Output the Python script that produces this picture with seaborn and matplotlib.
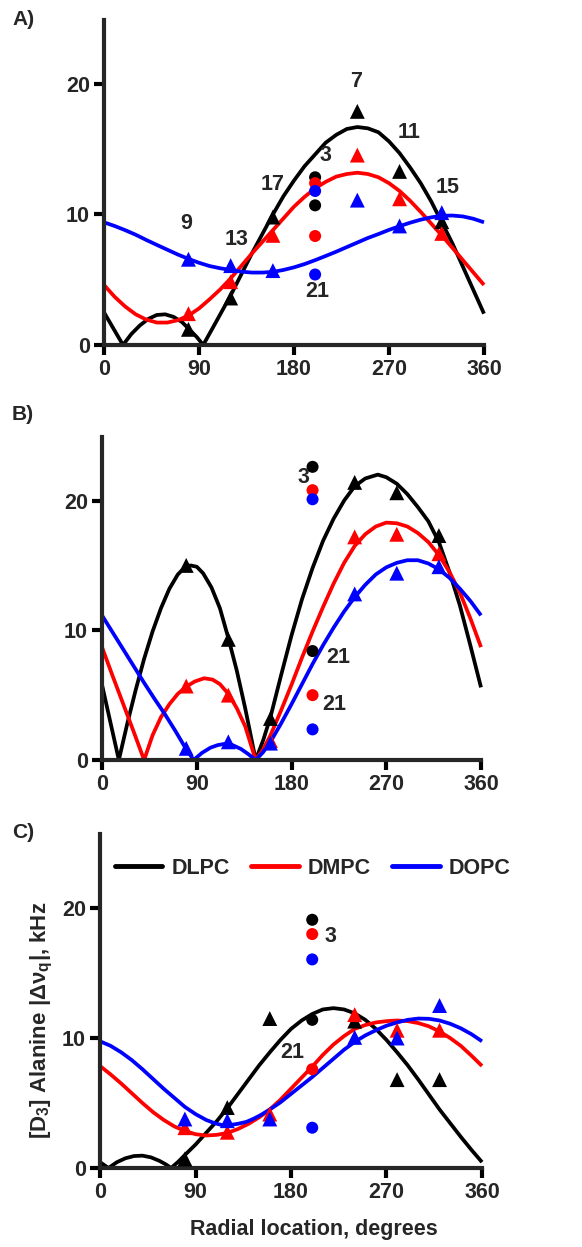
import matplotlib
matplotlib.use("Agg")
import matplotlib.pyplot as plt
from matplotlib.lines import Line2D
import pandas as pd
import seaborn as sns

# ---------------- data ----------------
LIPIDS = ["DLPC", "DMPC", "DOPC"]
COLORS = ["#000000", "#ff0000", "#0000ff"]
XTICKS = [0, 90, 180, 270, 360]
YTICKS = [0, 10, 20]

TRI_X = [80, 120, 160, 240, 280, 320]   # radial positions (triangles)
DOT_X = 200                              # radial position of residues 3 / 21

# ---- Panel A ----
A_DLPC_theta = [0, 9, 18, 26, 34, 42, 50, 58, 66, 74, 82, 88, 94, 105, 120, 130, 140, 150, 160, 170, 180, 190,
                200, 210, 220, 230, 240, 250, 260, 270, 280, 290, 300, 310, 320, 330, 340, 350, 360]
A_DLPC_fit = [2.5, 1.25, 0.0, 0.85, 1.5, 2.0, 2.3, 2.35, 2.15, 1.75, 1.1, 0.6, 0.0, 1.6, 3.8, 5.4, 7.0, 8.5, 10.0, 11.4, 12.6, 13.7,
              14.6, 15.5, 16.1, 16.55, 16.7, 16.6, 16.3, 15.6, 14.7, 13.6, 12.4, 11.0, 9.4, 7.8, 6.0, 4.2, 2.4]
A_DMPC_theta = [0, 10, 20, 30, 40, 50, 60, 70, 80, 90, 100, 110, 120, 130, 140, 150, 160, 170, 180,
                190, 200, 210, 220, 230, 240, 250, 260, 270, 280, 290, 300, 310, 320, 330, 340, 350, 360]
A_DMPC_fit = [4.6, 3.7, 2.95, 2.35, 1.95, 1.72, 1.72, 1.9, 2.25, 2.8, 3.5, 4.25, 5.1, 6.05, 7.0, 7.9, 8.8, 9.7, 10.6,
              11.35, 12.0, 12.5, 12.9, 13.1, 13.2, 13.1, 12.85, 12.4, 11.8, 11.05, 10.2, 9.3, 8.4, 7.45, 6.5, 5.55, 4.6]
A_DOPC_theta = [0, 10, 20, 30, 40, 50, 60, 70, 80, 90, 100, 110, 120, 130, 140, 150, 160, 170, 180,
                190, 200, 210, 220, 230, 240, 250, 260, 270, 280, 290, 300, 310, 320, 330, 340, 350, 360]
A_DOPC_fit = [9.4, 9.12, 8.8, 8.45, 8.05, 7.67, 7.3, 6.93, 6.6, 6.3, 6.05, 5.88, 5.75, 5.62, 5.55, 5.55, 5.6, 5.75, 5.95,
              6.2, 6.5, 6.82, 7.15, 7.5, 7.85, 8.2, 8.5, 8.82, 9.1, 9.37, 9.6, 9.78, 9.9, 9.92, 9.85, 9.67, 9.4]
A_tri_DLPC = [1.2, 3.6, 9.8, 17.9, 13.3, 9.45]
A_tri_DMPC = [2.4, 4.85, 8.4, 14.55, 11.2, 8.55]
A_tri_DOPC = [6.57, 6.08, 5.7, 11.1, 9.12, 10.14]
A_dot_res3 = [12.85, 12.4, 11.8]
A_dot_res21 = [10.7, 8.35, 5.4]
A_labels = ["9", "13", "17", "3", "21", "7", "11", "15"]
A_label_x = [78, 126, 160, 210, 202, 239, 289, 326]
A_label_y = [9.3, 8.1, 12.3, 14.5, 4.1, 20.15, 16.25, 12.1]

# ---- Panel B ----
B_DLPC_theta = [0, 8, 16, 24, 32, 40, 48, 56, 64, 72, 78, 84, 90, 96, 104, 112, 120, 128, 136, 146, 153, 160, 170, 180,
                190, 200, 210, 220, 230, 240, 250, 262, 270, 280, 290, 300, 310, 320, 330, 340, 350, 360]
B_DLPC_fit = [5.8, 2.9, 0.0, 2.8, 5.4, 7.8, 9.9, 11.7, 13.2, 14.3, 14.8, 15.0, 14.9, 14.4, 13.3, 11.7, 9.4, 6.9, 4.0, 0.0, 1.5, 3.3, 6.5, 9.6,
              12.4, 14.8, 16.9, 18.6, 20.0, 21.1, 21.7, 22.0, 21.8, 21.3, 20.5, 19.5, 18.4, 16.8, 14.5, 11.9, 8.8, 5.6]
B_DMPC_theta = [0, 10, 20, 30, 40, 48, 56, 64, 72, 80, 88, 97, 105, 112, 120, 128, 136, 146, 153, 160, 170, 180,
                190, 200, 210, 220, 230, 240, 250, 260, 270, 280, 290, 300, 310, 320, 330, 340, 350, 360]
B_DMPC_fit = [8.7, 6.5, 4.35, 2.2, 0.0, 1.9, 3.3, 4.3, 5.1, 5.65, 6.05, 6.3, 6.2, 5.85, 5.1, 4.0, 2.6, 0.0, 0.8, 1.9, 3.8, 5.8,
              7.9, 9.9, 11.8, 13.6, 15.2, 16.5, 17.4, 18.0, 18.3, 18.25, 18.0, 17.5, 16.8, 15.8, 14.5, 12.9, 10.9, 8.7]
B_DOPC_theta = [0, 10, 20, 30, 40, 50, 60, 70, 78, 87, 95, 103, 110, 117, 124, 132, 139, 146, 153, 160, 170, 180,
                190, 200, 210, 220, 230, 240, 250, 260, 270, 280, 290, 300, 310, 320, 330, 340, 350, 360]
B_DOPC_fit = [11.15, 9.85, 8.55, 7.25, 5.95, 4.7, 3.5, 2.2, 1.1, 0.0, 0.55, 0.95, 1.15, 1.25, 1.15, 0.85, 0.45, 0.0, 0.6, 1.4, 2.8, 4.3,
              5.85, 7.4, 8.85, 10.2, 11.45, 12.55, 13.5, 14.3, 14.85, 15.2, 15.4, 15.4, 15.15, 14.7, 14.05, 13.2, 12.25, 11.15]
B_tri_DLPC = [15.0, 9.3, 3.2, 21.4, 20.6, 17.3]
B_tri_DMPC = [5.7, 5.0, 1.5, 17.2, 17.4, 15.9]
B_tri_DOPC = [0.9, 1.4, 1.3, 12.8, 14.4, 14.9]
B_dot_res3 = [22.6, 20.8, 20.1]
B_dot_res21 = [8.4, 5.0, 2.36]
B_labels = ["3", "21", "21"]
B_label_x = [191, 224, 221]
B_label_y = [21.8, 7.9, 4.25]

# ---- Panel C ----
C_DLPC_theta = [0, 8, 16, 24, 32, 40, 48, 56, 62, 67, 74, 80, 90, 100, 110, 120, 130, 140, 150, 160, 170, 180,
                190, 200, 210, 220, 230, 240, 250, 260, 270, 280, 290, 300, 310, 320, 330, 340, 350, 360]
C_DLPC_fit = [0.45, 0.0, 0.45, 0.75, 0.92, 0.95, 0.82, 0.55, 0.28, 0.0, 0.5, 1.0, 1.8, 2.7, 3.6, 4.6, 5.7, 6.8, 7.9, 8.9, 9.85, 10.7,
              11.35, 11.85, 12.2, 12.3, 12.2, 11.9, 11.4, 10.7, 9.85, 8.9, 7.9, 6.8, 5.65, 4.5, 3.45, 2.4, 1.4, 0.45]
C_DMPC_theta = [0, 10, 20, 30, 40, 50, 60, 70, 80, 90, 100, 110, 120, 130, 140, 150, 160, 170, 180,
                190, 200, 210, 220, 230, 240, 250, 260, 270, 280, 290, 300, 310, 320, 330, 340, 350, 360]
C_DMPC_fit = [7.85, 7.2, 6.5, 5.75, 5.0, 4.3, 3.7, 3.2, 2.85, 2.6, 2.5, 2.55, 2.7, 3.0, 3.4, 3.9, 4.5, 5.25, 6.1,
              6.95, 7.8, 8.7, 9.5, 10.15, 10.7, 11.0, 11.2, 11.3, 11.35, 11.3, 11.15, 10.9, 10.5, 10.0, 9.4, 8.65, 7.85]
C_DOPC_theta = [0, 10, 20, 30, 40, 50, 60, 70, 80, 90, 100, 108, 115, 122, 130, 138, 145, 152, 160, 170, 180,
                190, 200, 210, 220, 230, 240, 250, 260, 270, 280, 290, 300, 310, 320, 330, 340, 350, 360]
C_DOPC_fit = [9.75, 9.4, 8.9, 8.3, 7.6, 6.85, 6.1, 5.4, 4.7, 4.15, 3.7, 3.45, 3.3, 3.3, 3.4, 3.55, 3.8, 4.1, 4.5, 5.05, 5.7,
              6.35, 7.0, 7.7, 8.4, 9.1, 9.7, 10.2, 10.6, 10.95, 11.2, 11.4, 11.5, 11.48, 11.35, 11.1, 10.75, 10.3, 9.75]
C_tri_DLPC = [0.7, 4.65, 11.5, 11.3, 6.8, 6.8]
C_tri_DMPC = [3.1, 2.75, 4.15, 11.8, 10.6, 10.6]
C_tri_DOPC = [3.77, 3.64, 3.77, 10.05, 10.0, 12.5]
C_dot_res3 = [19.1, 18.0, 16.05]
C_dot_res21 = [11.4, 7.6, 3.1]
C_labels = ["3", "21"]
C_label_x = [217, 181]
C_label_y = [17.8, 8.85]

PANEL_TITLES = ["A)", "B)", "C)"]
XLABEL = "Radial location, degrees"
YLABEL = "[D$_3$] Alanine |Δν$_q$|, kHz"

# ---------------- style ----------------
sns.set_style("ticks")
plt.rcParams["font.family"] = ["Liberation Sans", "DejaVu Sans"]
plt.rcParams["font.weight"] = "bold"
plt.rcParams["axes.labelweight"] = "bold"
plt.rcParams["mathtext.fontset"] = "custom"
plt.rcParams["mathtext.rm"] = "Liberation Sans:bold"
plt.rcParams["mathtext.bf"] = "Liberation Sans:bold"
plt.rcParams["mathtext.it"] = "Liberation Sans:bold"
plt.rcParams["mathtext.default"] = "rm"

W, H = 582, 1247
fig = plt.figure(figsize=(W / 100, H / 100), dpi=100)

# axes rectangles in pixels: left, right, bottom(y of x-axis), top
rects = [(104, 484, 345, 20), (102, 481, 760, 437), (100, 482, 1168, 834)]
ytops = [24.9, 24.9, 25.7]


def px_rect(l, r, b, t):
    return [l / W, 1 - b / H, (r - l) / W, (b - t) / H]


panels = [
    dict(curves=[(A_DLPC_theta, A_DLPC_fit), (A_DMPC_theta, A_DMPC_fit), (A_DOPC_theta, A_DOPC_fit)],
         tris=[A_tri_DLPC, A_tri_DMPC, A_tri_DOPC], d3=A_dot_res3, d21=A_dot_res21,
         labels=A_labels, lx=A_label_x, ly=A_label_y),
    dict(curves=[(B_DLPC_theta, B_DLPC_fit), (B_DMPC_theta, B_DMPC_fit), (B_DOPC_theta, B_DOPC_fit)],
         tris=[B_tri_DLPC, B_tri_DMPC, B_tri_DOPC], d3=B_dot_res3, d21=B_dot_res21,
         labels=B_labels, lx=B_label_x, ly=B_label_y),
    dict(curves=[(C_DLPC_theta, C_DLPC_fit), (C_DMPC_theta, C_DMPC_fit), (C_DOPC_theta, C_DOPC_fit)],
         tris=[C_tri_DLPC, C_tri_DMPC, C_tri_DOPC], d3=C_dot_res3, d21=C_dot_res21,
         labels=C_labels, lx=C_label_x, ly=C_label_y),
]

title_tops = [10, 405, 823]
FS = 15.5

for i, (p, rc, ytop) in enumerate(zip(panels, rects, ytops)):
    ax = fig.add_axes(px_rect(*rc))
    fit_df = pd.concat([pd.DataFrame({"theta": th, "value": v, "lipid": lip})
                        for (th, v), lip in zip(p["curves"], LIPIDS)], ignore_index=True)
    tri_df = pd.concat([pd.DataFrame({"theta": TRI_X, "value": v, "lipid": lip})
                        for v, lip in zip(p["tris"], LIPIDS)], ignore_index=True)
    dot_df = pd.DataFrame({"theta": [DOT_X] * 6,
                           "value": list(p["d3"]) + list(p["d21"]),
                           "lipid": LIPIDS + LIPIDS})

    sns.lineplot(data=fit_df, x="theta", y="value", hue="lipid", hue_order=LIPIDS,
                 palette=COLORS, estimator=None, sort=False, linewidth=2.7,
                 legend=False, ax=ax)
    for ln in ax.lines:
        ln.set_clip_on(False)
        ln.set_solid_joinstyle("round")
        ln.set_solid_capstyle("butt")
    sns.scatterplot(data=tri_df, x="theta", y="value", hue="lipid", hue_order=LIPIDS,
                    palette=COLORS, marker="^", s=115, linewidth=0, legend=False,
                    ax=ax, zorder=3, clip_on=False)
    sns.scatterplot(data=dot_df, x="theta", y="value", hue="lipid", hue_order=LIPIDS,
                    palette=COLORS, marker="o", s=75, linewidth=0, legend=False,
                    ax=ax, zorder=3, clip_on=False)

    for t, x, y in zip(p["labels"], p["lx"], p["ly"]):
        ax.text(x, y, t, ha="center", va="center", fontsize=FS, fontweight="bold")

    ax.set_xlim(0, 360)
    ax.set_ylim(0, ytop)
    ax.set_xticks(XTICKS)
    ax.set_yticks(YTICKS)
    sns.despine(ax=ax)
    for s in ["left", "bottom"]:
        ax.spines[s].set_linewidth(3)
    ax.tick_params(axis="both", length=7, width=3, labelsize=FS, pad=3, color="black")
    ax.set_xlabel("")
    ax.set_ylabel("")
    for lab in ax.get_xticklabels() + ax.get_yticklabels():
        lab.set_fontweight("bold")

    fig.text(12 / W, 1 - title_tops[i] / H, PANEL_TITLES[i], ha="left", va="top",
             fontsize=15, fontweight="bold")

    if i == 2:
        ax.set_xlabel(XLABEL, fontsize=15.5, fontweight="bold")
        ax.xaxis.set_label_coords(0.559, -0.152)
        ax.set_ylabel(YLABEL, fontsize=16, fontweight="bold")
        ax.yaxis.set_label_coords(-0.118, 0.443)
        handles = [Line2D([], [], color=c, lw=3.5) for c in COLORS]
        ax.legend(handles, LIPIDS, loc="center left", bbox_to_anchor=(0.039, 0.898),
                  ncol=3, frameon=False, handlelength=2.2,
                  handletextpad=0.42, columnspacing=1.0, borderpad=0,
                  borderaxespad=0, prop={"weight": "bold", "size": 15.5})

fig.savefig("out.png", dpi=100)
